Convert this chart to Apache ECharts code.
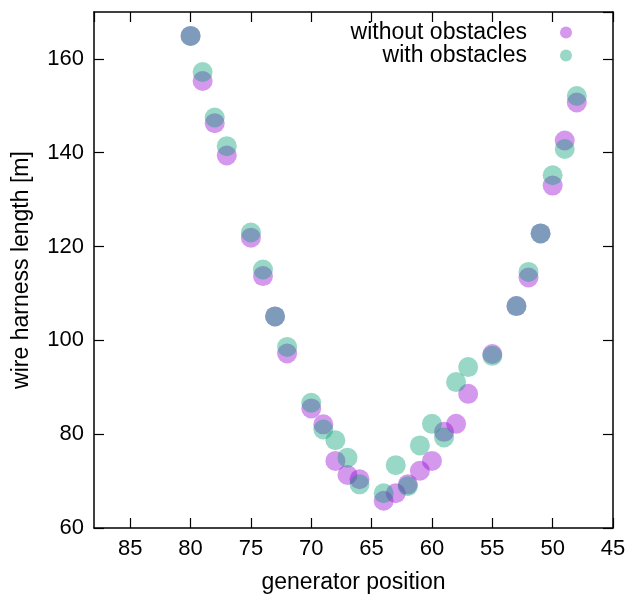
<!DOCTYPE html>
<html>
<head>
<meta charset="utf-8">
<script src="https://cdn.jsdelivr.net/npm/echarts@6/dist/echarts.min.js"></script>
<style>html,body{margin:0;padding:0;background:#fff}#c{width:629px;height:599px}</style>
</head>
<body>
<div id="c"></div>
<script>
const positions = [80,79,78,77,75,74,73,72,70,69,68,67,66,64,63,62,61,60,59,58,57,55,53,52,51,50,49,48];
const withoutObstacles = [164.9,155.3,146.3,139.4,121.9,113.7,105.1,97.2,85.5,82.1,74.3,71.3,70.4,65.8,67.4,69.3,72.2,74.3,80.5,82.2,88.6,97.1,107.3,113.4,122.8,133.0,142.6,150.7];
const withObstacles    = [164.9,157.2,147.5,141.4,123.0,115.1,105.1,98.6,86.7,81.0,78.7,75.0,69.3,67.4,73.4,68.9,77.6,82.2,79.3,91.1,94.3,96.7,107.3,114.6,122.8,135.2,140.8,152.1];
const seriesNames = ['without obstacles','with obstacles'];
const xTitle = 'generator position';
const yTitle = 'wire harness length [m]';

const font = 'Liberation Sans, Arial, sans-serif';
const axisLine = {show:true, lineStyle:{color:'#000', width:1.5}};
const tick = {show:true, inside:true, length:10, lineStyle:{color:'#000', width:1.2}};
const xBase = {type:'value', min:45, max:88, interval:5, inverse:true, splitLine:{show:false}, axisLine:axisLine, axisTick:tick};
const yBase = {type:'value', min:60, max:170, interval:20, splitLine:{show:false}, axisLine:axisLine, axisTick:tick};

const chart = echarts.init(document.getElementById('c'), null, {renderer:'canvas'});
chart.setOption({
  animation:false,
  backgroundColor:'#fff',
  textStyle:{fontFamily:font},
  grid:{left:94, right:16, top:12, bottom:70},
  legend:{
    orient:'vertical', align:'right', right:57, top:21, padding:0, itemGap:0,
    icon:'circle', itemWidth:12, itemHeight:12,
    textStyle:{fontFamily:font, fontSize:23, color:'#000', lineHeight:22, padding:[0,28,0,0]},
    data:seriesNames
  },
  xAxis:[
    Object.assign({}, xBase, {position:'bottom', name:xTitle, nameLocation:'middle', nameGap:43,
      nameTextStyle:{fontFamily:font, fontSize:23, color:'#000'},
      axisLabel:{show:true, margin:10, fontFamily:font, fontSize:22, color:'#000', showMaxLabel:false, showMinLabel:true}}),
    Object.assign({}, xBase, {position:'top', axisLabel:{show:false}})
  ],
  yAxis:[
    Object.assign({}, yBase, {position:'left', name:yTitle, nameLocation:'middle', nameGap:61,
      nameTextStyle:{fontFamily:font, fontSize:23, color:'#000'},
      axisLabel:{show:true, margin:10, fontFamily:font, fontSize:22, color:'#000', showMaxLabel:false}}),
    Object.assign({}, yBase, {position:'right', axisLabel:{show:false}})
  ],
  series:[
    {name:seriesNames[0], type:'scatter', symbol:'circle', symbolSize:20,
     itemStyle:{color:'rgba(148,0,211,0.5)'},
     data:positions.map((p,i)=>[p, withoutObstacles[i]])},
    {name:seriesNames[1], type:'scatter', symbol:'circle', symbolSize:20,
     itemStyle:{color:'rgba(0,158,115,0.5)'},
     data:positions.map((p,i)=>[p, withObstacles[i]])}
  ]
});
</script>
</body>
</html>
